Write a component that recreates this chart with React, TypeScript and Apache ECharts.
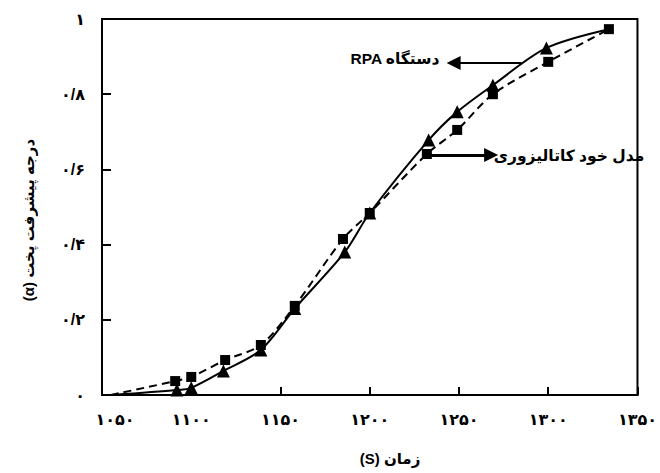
import React, { useEffect, useRef } from "react";
import * as echarts from "echarts";

// RPA device (triangles, solid line)
const rpaTime = [1056, 1092, 1100, 1118, 1139, 1158, 1186, 1200, 1233, 1249, 1269, 1299, 1334];
const rpaAlpha = [0, 0.013, 0.019, 0.064, 0.12, 0.23, 0.38, 0.484, 0.678, 0.753, 0.824, 0.923, 0.973];
const rpaNoSymbol = [0, 12];

// Autocatalytic model (squares, dashed line)
const modelTime = [1055, 1091, 1100, 1119, 1139, 1158, 1185, 1200, 1232, 1249, 1269, 1300, 1334];
const modelAlpha = [0, 0.037, 0.048, 0.093, 0.133, 0.237, 0.415, 0.484, 0.641, 0.705, 0.8, 0.886, 0.973];
const modelNoSymbol = [0];

const xTicks = [1050, 1100, 1150, 1200, 1250, 1300, 1350];
const yTicks = [0, 0.2, 0.4, 0.6, 0.8, 1];

// texts are laid out right-to-left by the renderer
const labelRPA = "RPA دستگاه";
const labelModel = "مدل خود کاتالیزوری";
const xTitle = "(S) زمان";
const yTitle = "\u202Bدرجه پیشرفت پخت (α)\u202C";

// annotation anchors (data coordinates)
const rpaArrow = [[1285, 0.883], [1247, 0.883]];
const modelArrow = [[1231, 0.638], [1268, 0.638]];
const rpaTextAnchor = [1239, 0.896];
const modelTextAnchor = [1269.5, 0.636];

const FONT = "'Liberation Sans', 'DejaVu Sans', Arial, sans-serif";

function toFa(v: number): string {
  const s = String(Math.round(v * 100) / 100).replace(".", "/");
  return s.replace(/[0-9]/g, (d) => "۰۱۲۳۴۵۶۷۸۹"[+d]);
}

export default function App() {
  const ref = useRef<HTMLDivElement>(null);
  useEffect(() => {
    document.body.style.margin = "0";
    if (!ref.current) return;
    const chart = echarts.init(ref.current, null, { renderer: "svg" });
    const rpaData = rpaTime.map((t, i) =>
      rpaNoSymbol.includes(i) ? { value: [t, rpaAlpha[i]], symbol: "none" } : { value: [t, rpaAlpha[i]] }
    );
    const modelData = modelTime.map((t, i) =>
      modelNoSymbol.includes(i) ? { value: [t, modelAlpha[i]], symbol: "none" } : { value: [t, modelAlpha[i]] }
    );
    chart.setOption({
      animation: false,
      textStyle: { fontFamily: FONT },
      grid: {
        left: 102,
        right: 17,
        top: 19,
        bottom: 78,
        show: true,
        borderColor: "#000",
        borderWidth: 2,
      },
      xAxis: {
        type: "value",
        min: xTicks[0],
        max: xTicks[xTicks.length - 1],
        interval: 50,
        axisLine: { show: true, lineStyle: { color: "#000", width: 2 } },
        axisTick: { show: true, inside: true, length: 8, lineStyle: { color: "#000", width: 2 } },
        splitLine: { show: false },
        axisLabel: {
          margin: 16,
          color: "#000",
          fontSize: 16,
          fontWeight: "bold",
          fontFamily: FONT,
          formatter: (v: number) => (v === xTicks[0] ? `{first|${toFa(v)}}` : toFa(v)),
          rich: {
            first: { padding: [0, 0, 0, 26], fontSize: 16, fontWeight: "bold", color: "#000", fontFamily: FONT },
          },
        },
      },
      yAxis: {
        type: "value",
        min: yTicks[0],
        max: yTicks[yTicks.length - 1],
        interval: 0.2,
        axisLine: { show: true, lineStyle: { color: "#000", width: 2 } },
        axisTick: { show: true, inside: true, length: 9, lineStyle: { color: "#000", width: 2 } },
        splitLine: { show: false },
        axisLabel: {
          margin: 17,
          color: "#000",
          fontSize: 16,
          fontWeight: "bold",
          fontFamily: FONT,
          formatter: (v: number) => toFa(v),
        },
      },
      graphic: [
        {
          type: "text",
          x: 390,
          y: 458,
          style: {
            text: xTitle,
            align: "center",
            verticalAlign: "middle",
            fontSize: 15,
            fontWeight: "bold",
            fontFamily: FONT,
            fill: "#000",
          },
        },
        {
          type: "text",
          x: 28,
          y: 220,
          rotation: Math.PI / 2,
          style: {
            text: yTitle,
            align: "center",
            verticalAlign: "middle",
            fontSize: 15,
            fontWeight: "bold",
            fontFamily: FONT,
            fill: "#000",
          },
        },
      ],
      series: [
        {
          name: labelRPA,
          type: "line",
          data: rpaData,
          smooth: 0.3,
          symbol: "triangle",
          symbolSize: 13,
          itemStyle: { color: "#000" },
          lineStyle: { color: "#000", width: 2, type: "solid" },
          z: 3,
          markLine: {
            silent: true,
            animation: false,
            symbol: ["none", "triangle"],
            symbolSize: 14,
            label: { show: false },
            lineStyle: { color: "#000", width: 2, type: "solid" },
            data: [[{ coord: rpaArrow[0] }, { coord: rpaArrow[1] }]],
          },
          markPoint: {
            silent: true,
            animation: false,
            symbol: "rect",
            symbolSize: 0,
            data: [
              {
                coord: rpaTextAnchor,
                label: {
                  show: true,
                  position: "left",
                  distance: 0,
                  formatter: labelRPA,
                  color: "#000",
                  fontSize: 15.5,
                  fontWeight: "bold",
                  fontFamily: FONT,
                },
              },
            ],
          },
        },
        {
          name: labelModel,
          type: "line",
          data: modelData,
          smooth: 0.3,
          symbol: "rect",
          symbolSize: 10,
          itemStyle: { color: "#000" },
          lineStyle: { color: "#000", width: 2, type: [8, 5] },
          z: 4,
          markLine: {
            silent: true,
            animation: false,
            symbol: ["none", "triangle"],
            symbolSize: 14,
            label: { show: false },
            lineStyle: { color: "#000", width: 3, type: "solid" },
            data: [[{ coord: modelArrow[0] }, { coord: modelArrow[1] }]],
          },
          markPoint: {
            silent: true,
            animation: false,
            symbol: "rect",
            symbolSize: 0,
            data: [
              {
                coord: modelTextAnchor,
                label: {
                  show: true,
                  position: "right",
                  distance: 0,
                  formatter: labelModel,
                  color: "#000",
                  fontSize: 15.5,
                  fontWeight: "bold",
                  fontFamily: FONT,
                },
              },
            ],
          },
        },
      ],
    });
    return () => chart.dispose();
  }, []);
  return <div ref={ref} style={{ width: 660, height: 473 }} />;
}
